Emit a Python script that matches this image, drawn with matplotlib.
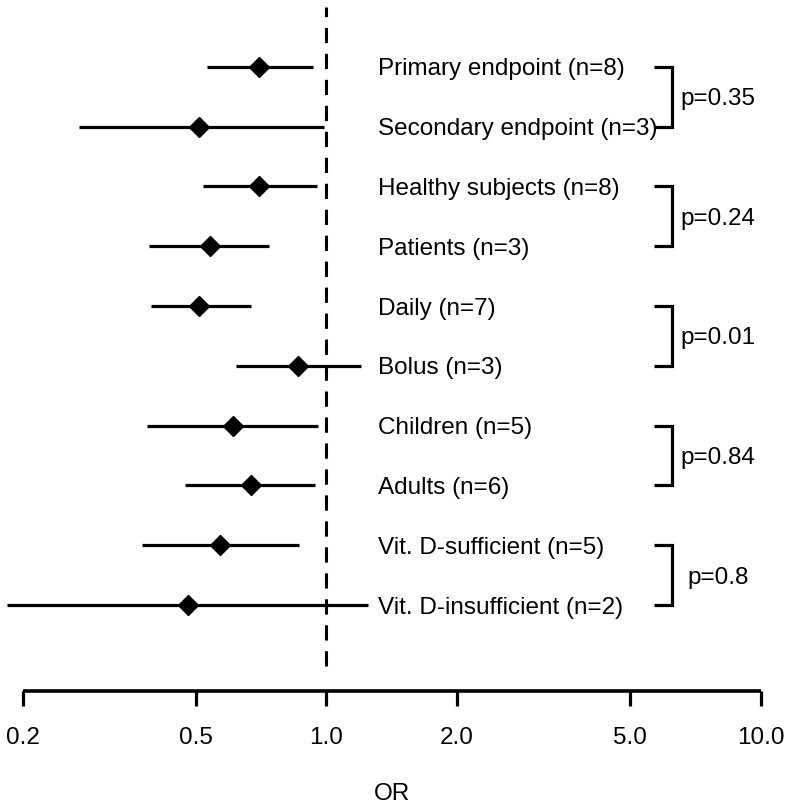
import numpy as np
import matplotlib
matplotlib.use("Agg")
import matplotlib.pyplot as plt
from matplotlib.ticker import FixedLocator, FixedFormatter, NullLocator
import matplotlib.transforms as mtransforms

plt.rcParams['font.family'] = ['Liberation Sans', 'DejaVu Sans']

# subgroup estimates (odds ratio with 95% CI), top to bottom
labels = ["Primary endpoint (n=8)", "Secondary endpoint (n=3)",
          "Healthy subjects (n=8)", "Patients (n=3)",
          "Daily (n=7)", "Bolus (n=3)",
          "Children (n=5)", "Adults (n=6)",
          "Vit. D-sufficient (n=5)", "Vit. D-insufficient (n=2)"]
odds = [0.70, 0.51, 0.70, 0.54, 0.51, 0.86, 0.61, 0.67, 0.57, 0.48]
lower = [0.53, 0.27, 0.52, 0.39, 0.395, 0.62, 0.386, 0.473, 0.376, 0.184]
upper = [0.93, 0.99, 0.95, 0.74, 0.67, 1.20, 0.956, 0.94, 0.865, 1.25]

# p-values for subgroup interaction, one per pair
p_values = ["p=0.35", "p=0.24", "p=0.01", "p=0.84", "p=0.8"]

ticks = [0.2, 0.5, 1.0, 2.0, 5.0, 10.0]
tick_labels = ["0.2", "0.5", "1.0", "2.0", "5.0", "10.0"]

fs = 17.5

fig = plt.figure(figsize=(7.91, 8.10), dpi=100)
ax = fig.add_axes([0, 0, 1, 1])
ax.set_xscale('log')
ax.set_xlim(0.1774, 11.74)
ax.set_ylim(-2.428, 11.117)

n = len(labels)
ypos = np.arange(n, 0, -1)

# reference line at OR = 1
ax.plot([1, 1], [-0.02, 11.0], color='black', lw=2.2,
        linestyle=(0, (5, 3.5)), zorder=1)

# confidence intervals and point estimates
ax.hlines(ypos, lower, upper, color='black', lw=2.3, zorder=2)
ax.plot(odds, ypos, linestyle='none', marker='D', color='black',
        markersize=10.5, zorder=3)

trans = mtransforms.blended_transform_factory(ax.transAxes, ax.transData)
for y, lab in zip(ypos, labels):
    ax.text(0.478, y, lab, transform=trans, ha='left', va='center_baseline',
            fontsize=fs)

# brackets with p-values
for k, p in enumerate(p_values):
    y1 = ypos[2 * k]
    y2 = ypos[2 * k + 1]
    ax.plot([0.827, 0.850, 0.850, 0.827], [y1, y1, y2, y2],
            transform=trans, color='black', lw=2.3,
            solid_joinstyle='miter', solid_capstyle='butt')
    ax.text(0.908, (y1 + y2) / 2, p, transform=trans, ha='center',
            va='center_baseline', fontsize=fs)

# axis
for side in ['top', 'right', 'left']:
    ax.spines[side].set_visible(False)
ax.spines['bottom'].set_position(('data', -0.438))
ax.spines['bottom'].set_bounds(0.2, 10)
ax.spines['bottom'].set_linewidth(2.6)
ax.spines['bottom'].set_capstyle('butt')
ax.xaxis.set_major_locator(FixedLocator(ticks))
ax.xaxis.set_major_formatter(FixedFormatter(tick_labels))
ax.xaxis.set_minor_locator(NullLocator())
ax.tick_params(axis='x', length=11, width=2.3, pad=15, labelsize=fs,
               direction='out')
ax.set_yticks([])

fig.text(0.496, 1 - 794 / 810, "OR", ha='center', va='center',
         fontsize=fs)

fig.savefig("out.png", dpi=100)
